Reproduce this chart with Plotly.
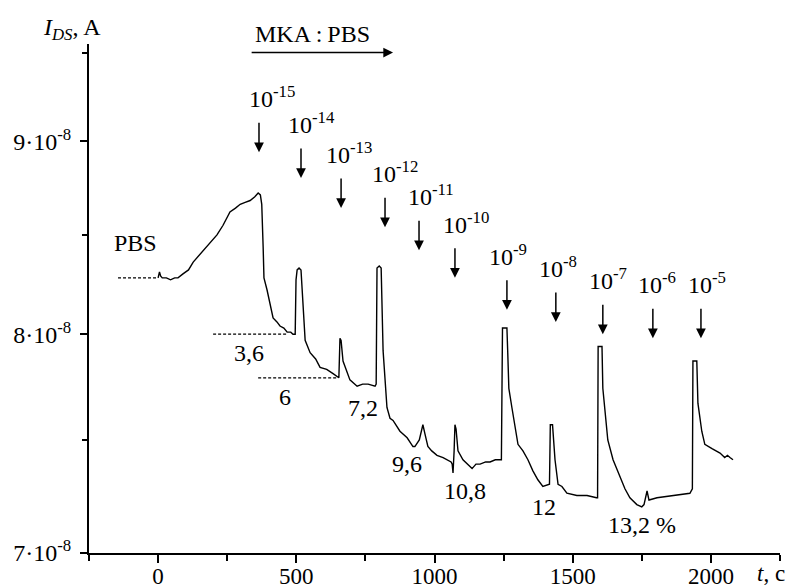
import math
import plotly.graph_objects as go

# ---------------- data ----------------
# time, s
t_s = [0, 5, 9, 15, 30, 45, 60, 72, 90, 110, 127, 145, 163, 180, 195, 213, 235, 260, 280, 297,
       315, 333, 350, 362, 370, 375, 380, 383, 394, 409, 416, 430, 441, 455, 467, 480, 488, 496,
       499, 503, 510, 517, 521, 532, 550, 570, 586, 610, 633, 651,
       654, 658, 662, 669, 694, 720, 740, 760, 785,
       789, 792, 800, 807, 814, 828, 839, 850, 875, 901, 922, 929,
       945, 958, 965, 976, 990, 1009, 1031, 1060, 1064, 1067, 1071, 1074, 1078, 1085, 1103, 1120,
       1136, 1150, 1165, 1185, 1201, 1220, 1237,
       1242, 1246, 1262, 1265, 1269, 1280, 1291, 1302, 1320, 1338, 1356, 1374, 1392, 1410,
       1416, 1419, 1427, 1436, 1447, 1461, 1479, 1515, 1552, 1586, 1590,
       1592, 1606, 1609, 1617, 1627, 1646, 1671, 1689, 1707, 1732, 1750, 1758, 1769, 1776,
       1805, 1863, 1924, 1933,
       1935, 1949, 1953, 1967, 1978, 2004, 2033, 2050, 2060, 2069, 2080]
# drain-source current, units of 1e-8 A
ids_e8 = [8.28, 8.31, 8.29, 8.28, 8.28, 8.27, 8.28, 8.28, 8.30, 8.32, 8.36, 8.39, 8.42, 8.45, 8.47, 8.50, 8.55, 8.62, 8.64, 8.66,
          8.67, 8.68, 8.70, 8.72, 8.71, 8.66, 8.44, 8.28, 8.22, 8.13, 8.08, 8.06, 8.04, 8.03, 8.01, 8.01, 8.00, 8.00,
          8.27, 8.32, 8.33, 8.32, 8.23, 7.97, 7.91, 7.88, 7.84, 7.83, 7.81, 7.79,
          7.79, 7.98, 7.97, 7.87, 7.78, 7.75, 7.76, 7.76, 7.75,
          7.76, 8.33, 8.34, 8.33, 7.92, 7.65, 7.60, 7.59, 7.54, 7.51, 7.47, 7.47,
          7.50, 7.57, 7.53, 7.47, 7.45, 7.43, 7.42, 7.40, 7.39, 7.35, 7.45, 7.57, 7.55, 7.45, 7.41, 7.39,
          7.37, 7.39, 7.39, 7.40, 7.40, 7.41, 7.41,
          7.41, 8.03, 8.03, 7.91, 7.74, 7.65, 7.56, 7.48, 7.45, 7.41, 7.36, 7.32, 7.29, 7.30,
          7.30, 7.57, 7.57, 7.41, 7.30, 7.29, 7.26, 7.25, 7.25, 7.24, 7.24,
          7.94, 7.94, 7.74, 7.62, 7.50, 7.41, 7.33, 7.28, 7.24, 7.21, 7.20, 7.21, 7.27, 7.23,
          7.24, 7.25, 7.26, 7.28,
          7.87, 7.87, 7.67, 7.54, 7.48, 7.46, 7.44, 7.42, 7.43, 7.42, 7.41]

conc_exp = [-15, -14, -13, -12, -11, -10, -9, -8, -7, -6, -5]
add_t = [365, 517, 662, 821, 944, 1074, 1262, 1439, 1609, 1790, 1964]

pct_drop = [3.6, 6, 7.2, 9.6, 10.8, 12, 13.2]

# dashed reference levels (1e-8 A) and their time spans
ref_level = [8.28, 8.00, 7.79]
ref_t0 = [-145, 199, 362]
ref_t1 = [0, 467, 651]

y_tick_vals = [7e-8, 8e-8, 9e-8]
y_tick_text = ["7·10<sup>-8</sup>", "8·10<sup>-8</sup>", "9·10<sup>-8</sup>"]
y_minor_vals = [7.5e-8, 8.5e-8, 9.5e-8]

# ---------------- layout helpers ----------------
FONT = "'Liberation Serif', 'DejaVu Serif', 'Times New Roman', serif"
ids = [v * 1e-8 for v in ids_e8]
L = lambda v: math.log10(v * 1e-8)
TF = dict(family=FONT, size=24, color="black")

fig = go.Figure()
fig.add_trace(go.Scatter(x=t_s, y=ids, mode="lines",
                         line=dict(color="black", width=1.4), showlegend=False))
for lv, a, b in zip(ref_level, ref_t0, ref_t1):
    fig.add_trace(go.Scatter(x=[a, b], y=[lv * 1e-8, lv * 1e-8], mode="lines",
                             line=dict(color="black", width=1.2, dash="3px,2px"),
                             showlegend=False))

ann = []
# concentration arrows
arrow_tip_level = [8.94, 8.80, 8.64, 8.54, 8.42, 8.28, 8.12, 8.06, 8.00, 7.98, 7.98]
label_dx = [13, 10, 8, 10, 12, 11, 1, 2, 5, 4, 6]
for e, t, lv, dx in zip(conc_exp, add_t, arrow_tip_level, label_dx):
    ann.append(dict(x=t, y=L(lv), xref="x", yref="y", text="", showarrow=True,
                    ax=0, ay=-31, arrowhead=2, arrowsize=1.3, arrowwidth=1.5,
                    arrowcolor="black"))
    ann.append(dict(x=t, y=L(lv), xref="x", yref="y", text=f"10<sup>{e}</sup>",
                    showarrow=False, xshift=dx, yshift=55, font=TF))

# percentage labels
pct_pos = [(329, 7.91), (459, 7.70), (741, 7.65), (900, 7.39), (1110, 7.27), (1396, 7.20), (1750, 7.12)]
for i, (p, (tx, ly)) in enumerate(zip(pct_drop, pct_pos)):
    s = (f"{p:g}").replace(".", ",")
    if i == len(pct_drop) - 1:
        s += " %"
    ann.append(dict(x=tx, y=L(ly), xref="x", yref="y", text=s, showarrow=False, font=TF))

ann.append(dict(x=-83, y=L(8.46), xref="x", yref="y", text="PBS", showarrow=False, font=TF))

# MKA:PBS arrow
ann.append(dict(x=850, y=L(9.50), xref="x", yref="y", ax=333, ay=L(9.50),
                axref="x", ayref="y", text="", showarrow=True, arrowhead=2,
                arrowsize=1.3, arrowwidth=1.5, arrowcolor="black"))
ann.append(dict(x=557, y=L(9.50), xref="x", yref="y", yshift=19,
                text="MKA\u2009:\u2009PBS", showarrow=False, font=TF))

# axis titles
ann.append(dict(x=-0.025, y=1.03, xref="paper", yref="paper", xanchor="center", yanchor="middle",
                text="<i>I</i><sub><i>DS</i></sub>, A", showarrow=False, font=TF))
ann.append(dict(x=0.987, y=-0.041, xref="paper", yref="paper", xanchor="center", yanchor="middle",
                text="<i>t</i>, c", showarrow=False, font=dict(family=FONT, size=23, color="black")))

# the page body adds an 8 px margin, so the figure is 8 px smaller than the window
fig.update_layout(
    width=789, height=580,
    margin=dict(l=81, r=17, t=36, b=35),
    paper_bgcolor="white", plot_bgcolor="white",
    font=dict(family=FONT, size=24, color="black"),
    annotations=ann,
    xaxis=dict(range=[-250, 2250], tick0=0, dtick=500, showgrid=False, zeroline=False,
               automargin=False,
               showline=True, linewidth=2, linecolor="black",
               ticks="outside", ticklen=8, tickwidth=2, tickcolor="black",
               tickfont=dict(family=FONT, size=23), ticklabelstandoff=-7,
               minor=dict(tick0=0, dtick=250, ticks="outside", ticklen=6, tickwidth=1.5,
                          tickcolor="black")),
    yaxis=dict(type="log", range=[math.log10(7e-8), math.log10(9.55e-8)],
               tickmode="array", tickvals=y_tick_vals, ticktext=y_tick_text,
               showgrid=False, zeroline=False, automargin=False,
               showline=True, linewidth=2, linecolor="black",
               ticks="outside", ticklen=7, tickwidth=2, tickcolor="black",
               tickfont=dict(family=FONT, size=24), ticklabelstandoff=4,
               minor=dict(tickmode="array", tickvals=y_minor_vals, ticks="outside",
                          ticklen=5, tickwidth=1.5, tickcolor="black")),
)

fig.write_html("out.html")
